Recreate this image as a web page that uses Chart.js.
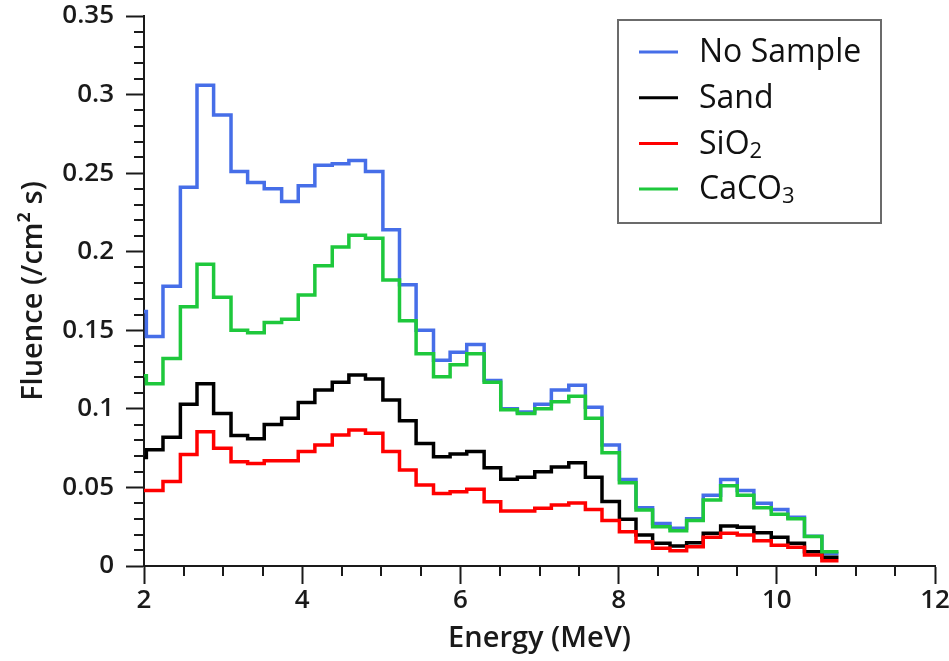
<!DOCTYPE html>
<html>
<head>
<meta charset="utf-8">
<script src="https://cdn.jsdelivr.net/npm/chart.js@4.4.1/dist/chart.umd.min.js"></script>
<style>
  html, body { margin: 0; padding: 0; background: #ffffff; }
  #wrap { width: 949px; height: 661px; position: relative; }
</style>
</head>
<body>
<div id="wrap"><canvas id="c" width="949" height="661"></canvas></div>
<script>
// Bin edges (MeV); each series value holds from one edge to the next
const energyEdges = [2.00, 2.03, 2.24, 2.46, 2.67, 2.88, 3.10, 3.31, 3.52, 3.74, 3.95, 4.16, 4.38, 4.59, 4.80, 5.02, 5.23, 5.44, 5.66, 5.87, 6.08, 6.30, 6.51, 6.72, 6.94, 7.15, 7.37, 7.58, 7.79, 8.01, 8.22, 8.43, 8.65, 8.86, 9.07, 9.29, 9.50, 9.71, 9.93, 10.14, 10.35, 10.57, 10.78];

const noSample = [0.162, 0.146, 0.178, 0.241, 0.306, 0.287, 0.251, 0.244, 0.240, 0.232, 0.242, 0.255, 0.256, 0.258, 0.251, 0.214, 0.179, 0.150, 0.131, 0.136, 0.141, 0.118, 0.100, 0.098, 0.103, 0.112, 0.115, 0.101, 0.077, 0.055, 0.037, 0.027, 0.024, 0.030, 0.045, 0.055, 0.048, 0.040, 0.036, 0.031, 0.019, 0.008];
const sand = [0.069, 0.074, 0.082, 0.103, 0.116, 0.097, 0.083, 0.081, 0.090, 0.094, 0.104, 0.112, 0.117, 0.1215, 0.119, 0.1056, 0.0925, 0.078, 0.0696, 0.0713, 0.0728, 0.0625, 0.0552, 0.0565, 0.060, 0.063, 0.0657, 0.0565, 0.041, 0.0297, 0.0197, 0.0145, 0.0127, 0.0148, 0.0208, 0.0255, 0.0246, 0.0212, 0.0183, 0.0144, 0.0091, 0.0055];
const sio2 = [0.048, 0.048, 0.0537, 0.071, 0.0855, 0.075, 0.0664, 0.0653, 0.067, 0.067, 0.0728, 0.077, 0.0834, 0.0865, 0.0844, 0.0728, 0.0611, 0.0515, 0.0462, 0.0473, 0.0488, 0.0409, 0.035, 0.035, 0.0367, 0.0388, 0.0401, 0.036, 0.029, 0.0218, 0.0155, 0.0113, 0.0097, 0.0123, 0.0183, 0.0208, 0.0197, 0.0161, 0.0132, 0.0119, 0.007, 0.0034];
const caco3 = [0.121, 0.116, 0.132, 0.165, 0.192, 0.171, 0.150, 0.1485, 0.155, 0.157, 0.1725, 0.191, 0.203, 0.2105, 0.2085, 0.182, 0.156, 0.135, 0.1205, 0.128, 0.135, 0.117, 0.0995, 0.097, 0.100, 0.1046, 0.108, 0.094, 0.072, 0.053, 0.0356, 0.025, 0.0225, 0.029, 0.042, 0.051, 0.045, 0.037, 0.033, 0.030, 0.0187, 0.009];

const seriesLabels = ['No Sample', 'Sand', 'SiO\u2082', 'CaCO\u2083'];
const seriesColors = ['#466ee8', '#000000', '#ff0000', '#1ec83c'];

const xTickMin = 2, xTickMax = 12, xTickStep = 2, xMinorStep = 0.5;
const yTickMin = 0, yTickMax = 0.35, yTickStep = 0.05, yMinorStep = 0.01;

function stepPoints(vals) {
  const pts = vals.map((v, i) => ({ x: energyEdges[i], y: v }));
  pts.push({ x: energyEdges[energyEdges.length - 1], y: vals[vals.length - 1] });
  return pts;
}

const allSeries = [noSample, sand, sio2, caco3];
const drawOrder = [4, 3, 2, 1];

const FONT = "'Open Sans', 'Noto Sans', sans-serif";
const TXT = '#1a1a1a';

const minorTicks = {
  id: 'minorTicks',
  afterDraw(chart) {
    const ctx = chart.ctx;
    const xs = chart.scales.x, ys = chart.scales.y;
    const a = chart.chartArea;
    ctx.save();
    ctx.strokeStyle = TXT;
    ctx.lineWidth = 2;
    ctx.beginPath();
    const ny = Math.round((yTickMax - yTickMin) / yMinorStep);
    for (let i = 0; i <= ny; i++) {
      if (i % Math.round(yTickStep / yMinorStep) === 0) continue;
      const py = Math.round(ys.getPixelForValue(yTickMin + i * yMinorStep));
      ctx.moveTo(a.left - 10, py);
      ctx.lineTo(a.left, py);
    }
    const nx = Math.round((xTickMax - xTickMin) / xMinorStep);
    for (let i = 0; i <= nx; i++) {
      if (i % Math.round(xTickStep / xMinorStep) === 0) continue;
      const px = Math.round(xs.getPixelForValue(xTickMin + i * xMinorStep));
      ctx.moveTo(px, a.bottom);
      ctx.lineTo(px, a.bottom + 10);
    }
    ctx.stroke();
    ctx.restore();
  }
};

function drawSubText(ctx, text, x, y, size) {
  // draws text, rendering unicode subscript digits as lowered small digits
  const subs = '\u2080\u2081\u2082\u2083\u2084\u2085\u2086\u2087\u2088\u2089';
  let cx = x;
  for (const ch of text) {
    const si = subs.indexOf(ch);
    if (si >= 0) {
      ctx.font = `${Math.round(size * 0.68)}px ${FONT}`;
      ctx.fillText(String(si), cx, y + size * 0.22);
      cx += ctx.measureText(String(si)).width;
    } else {
      ctx.font = `${size}px ${FONT}`;
      ctx.fillText(ch, cx, y);
      cx += ctx.measureText(ch).width;
    }
  }
}

const boxLegend = {
  id: 'boxLegend',
  afterDraw(chart) {
    const ctx = chart.ctx;
    ctx.save();
    ctx.strokeStyle = '#6b6b6b';
    ctx.lineWidth = 2;
    ctx.strokeRect(618, 20, 263, 203);
    chart.data.datasets.forEach((ds, i) => {
      const y = 52 + i * 45.7;
      ctx.strokeStyle = ds.borderColor;
      ctx.lineWidth = 3;
      ctx.beginPath();
      ctx.moveTo(639, y);
      ctx.lineTo(678, y);
      ctx.stroke();
      ctx.fillStyle = '#111111';
      ctx.textBaseline = 'middle';
      ctx.textAlign = 'left';
      drawSubText(ctx, ds.label, 699, y + 1, 32);
    });
    ctx.restore();
  }
};

new Chart(document.getElementById('c'), {
  type: 'line',
  data: {
    datasets: allSeries.map((vals, i) => ({
      label: seriesLabels[i],
      data: stepPoints(vals),
      borderColor: seriesColors[i],
      backgroundColor: seriesColors[i],
      borderWidth: 3.5,
      pointRadius: 0,
      stepped: 'before',
      fill: false,
      order: drawOrder[i]
    }))
  },
  options: {
    responsive: false,
    animation: false,
    devicePixelRatio: 1,
    layout: { padding: { left: 0, top: 16, right: 14, bottom: 0 } },
    plugins: { legend: { display: false }, tooltip: { enabled: false } },
    scales: {
      x: {
        type: 'linear',
        min: xTickMin, max: xTickMax,
        afterFit(s) { s.height = 95; s.paddingLeft = 0; s.paddingRight = 0; },
        ticks: {
          stepSize: xTickStep,
          color: TXT,
          padding: 1,
          maxRotation: 0,
          font: { family: FONT, size: 26, weight: '600' },
          callback: v => String(v)
        },
        grid: { drawOnChartArea: false, drawTicks: true, tickLength: 18, tickColor: TXT, tickWidth: 2 },
        border: { display: true, color: TXT, width: 2 },
        title: {
          display: true, text: 'Energy (MeV)', color: TXT,
          font: { family: FONT, size: 29, weight: '600' },
          padding: { top: 0, bottom: 5 }
        }
      },
      y: {
        min: yTickMin, max: yTickMax,
        afterFit(s) { s.width = 144; s.paddingTop = 0; s.paddingBottom = 0; },
        ticks: {
          stepSize: yTickStep,
          color: TXT,
          padding: 12,
          font: { family: FONT, size: 26, weight: '600' },
          callback: v => String(Number(v.toFixed(2)))
        },
        grid: { drawOnChartArea: false, drawTicks: true, tickLength: 18, tickColor: TXT, tickWidth: 2 },
        border: { display: true, color: TXT, width: 2 },
        title: {
          display: true, text: 'Fluence (/cm\u00B2 s)', color: TXT,
          font: { family: FONT, size: 29, weight: '600' },
          padding: { top: 16, bottom: 0 }
        }
      }
    }
  },
  plugins: [minorTicks, boxLegend]
});
</script>
</body>
</html>
